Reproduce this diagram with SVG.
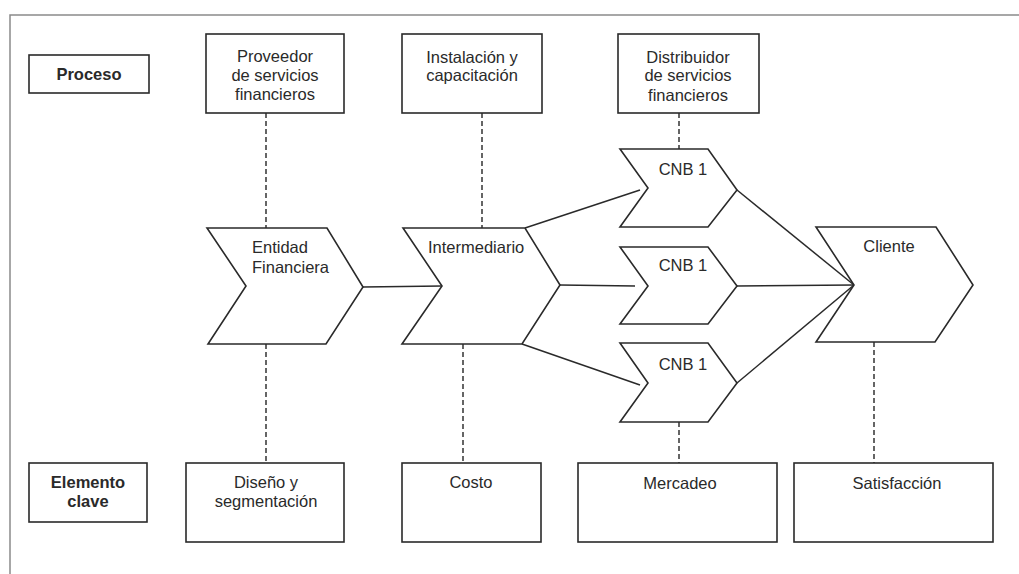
<svg xmlns="http://www.w3.org/2000/svg" width="1019" height="574" viewBox="0 0 1019 574">
<style>
.box{fill:#fff;stroke:#2a2a2a;stroke-width:1.6}
.chev{fill:#fff;stroke:#2a2a2a;stroke-width:1.6;stroke-linejoin:miter}
.t{font-family:"Liberation Sans",Arial,sans-serif;font-size:16.5px;fill:#2a2a2a;text-anchor:middle}
.b{font-weight:bold}
.s{text-anchor:start}
.conn{stroke:#2a2a2a;stroke-width:1.5;fill:none}
.dash{stroke:#333;stroke-width:1.5;stroke-dasharray:5 3;fill:none}
.frame{stroke:#8a8a8a;stroke-width:1.5;fill:none}
</style>
<rect width="1019" height="574" fill="#fff"/>
<path class="frame" d="M1019,15 H10 V574"/>
<g id="connectors">
<line class="dash" x1="266" y1="113" x2="266" y2="228"/>
<line class="dash" x1="482" y1="113" x2="482" y2="228"/>
<line class="dash" x1="679" y1="113" x2="679" y2="149"/>
<line class="dash" x1="266" y1="344" x2="266" y2="463"/>
<line class="dash" x1="463" y1="344" x2="463" y2="463"/>
<line class="dash" x1="679" y1="422" x2="679" y2="463"/>
<line class="dash" x1="874" y1="342" x2="874" y2="463"/>
<line class="conn" x1="363" y1="287" x2="442" y2="286"/>
<line class="conn" x1="525" y1="228" x2="640" y2="190"/>
<line class="conn" x1="560" y1="285" x2="635" y2="286"/>
<line class="conn" x1="522" y1="344" x2="640" y2="385"/>
<line class="conn" x1="737" y1="190" x2="854" y2="285"/>
<line class="conn" x1="737" y1="286" x2="854" y2="285"/>
<line class="conn" x1="737" y1="383" x2="854" y2="285"/>
</g>
<g id="proceso"><rect class="box" x="29" y="55" width="120" height="38"/><text class="t b" x="89" y="80">Proceso</text></g>
<g id="proveedor"><rect class="box" x="206" y="34" width="138" height="79"/><text class="t" x="275" y="62">Proveedor</text><text class="t" x="275" y="81">de servicios</text><text class="t" x="275" y="100">financieros</text></g>
<g id="instalacion"><rect class="box" x="402" y="34" width="140" height="79"/><text class="t" x="472" y="63">Instalación y</text><text class="t" x="472" y="81">capacitación</text></g>
<g id="distribuidor"><rect class="box" x="618" y="34" width="141" height="79"/><text class="t" x="688" y="63">Distribuidor</text><text class="t" x="688" y="81">de servicios</text><text class="t" x="688" y="101">financieros</text></g>
<g id="entidad"><polygon class="chev" points="207,228 327,228 363,287 326,344 208,344 246,286"/><text class="t s" x="252" y="253">Entidad</text><text class="t s" x="252" y="273">Financiera</text></g>
<g id="intermediario"><polygon class="chev" points="403,228 525,228 560,285 522,344 402,344 442,286"/><text class="t s" x="428" y="253">Intermediario</text></g>
<g id="cnb1"><polygon class="chev" points="620,149 708,149 737,190 708,227 620,227 648,188"/><text class="t" x="683" y="175">CNB 1</text></g>
<g id="cnb2"><polygon class="chev" points="620,247 708,247 737,286 708,324 620,324 648,286"/><text class="t" x="683" y="271">CNB 1</text></g>
<g id="cnb3"><polygon class="chev" points="620,343 708,343 737,383 708,422 620,422 648,383"/><text class="t" x="683" y="370">CNB 1</text></g>
<g id="cliente"><polygon class="chev" points="816,227 936,227 973,285 935,342 816,342 854,285"/><text class="t" x="889" y="252">Cliente</text></g>
<g id="elemento"><rect class="box" x="29" y="463" width="118" height="59"/><text class="t b" x="88" y="488">Elemento</text><text class="t b" x="88" y="507">clave</text></g>
<g id="diseno"><rect class="box" x="186" y="463" width="158" height="79"/><text class="t" x="266" y="488">Diseño y</text><text class="t" x="266" y="507">segmentación</text></g>
<g id="costo"><rect class="box" x="402" y="463" width="139" height="79"/><text class="t" x="471" y="488">Costo</text></g>
<g id="mercadeo"><rect class="box" x="578" y="463" width="199" height="79"/><text class="t" x="680" y="489">Mercadeo</text></g>
<g id="satisfaccion"><rect class="box" x="794" y="463" width="199" height="79"/><text class="t" x="897" y="489">Satisfacción</text></g>
</svg>
